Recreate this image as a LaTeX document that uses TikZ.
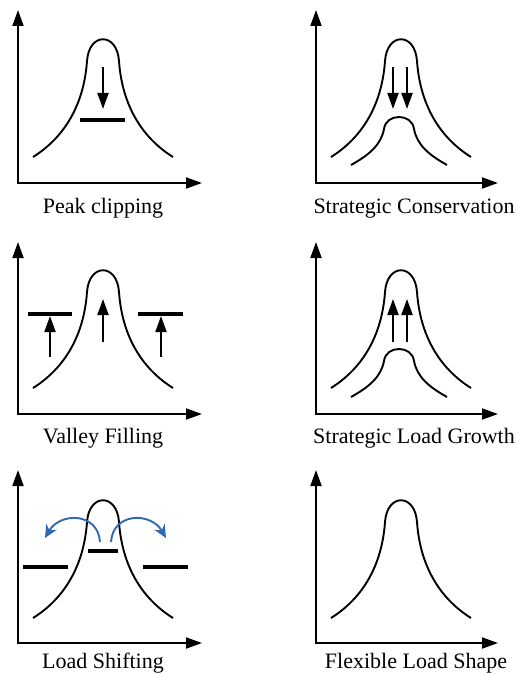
\documentclass[tikz,border=0pt]{standalone}
\usepackage{fontspec}
\setmainfont{Liberation Serif}
\usepackage{tikz}
\usetikzlibrary{arrows.meta,positioning}
\definecolor{shiftblue}{RGB}{46,106,178}

\begin{document}
\begin{tikzpicture}[
    x=1pt, y=-1pt,
    axis/.style={line width=1.9pt, arrows={Triangle[length=16pt,width=11pt]-Triangle[length=16pt,width=11pt]}},
    curve/.style={line width=1.9pt},
    level/.style={line width=3.8pt},
    arrow/.style={-{Triangle[length=16pt,width=11pt]}, line width=1.9pt},
    movearrow/.style={-{Stealth[length=13pt,width=12pt]}, line width=1.9pt, shiftblue},
    caption/.style={font=\fontsize{22}{26}\selectfont, anchor=base, inner sep=0pt},
    bell/.pic={\draw[curve] (-70,118) .. controls (-38,98) and (-19,65) .. (-16,22)
        .. controls (-14,-7) and (14,-7) .. (16,22)
        .. controls (19,65) and (38,98) .. (70,118);},
    smallbell/.pic={\draw[curve] (-48,48) .. controls (-30,38) and (-18,28) .. (-15,12)
        .. controls (-13,-4) and (13,-4) .. (15,12)
        .. controls (18,28) and (30,38) .. (48,48);}
]
\useasboundingbox (0,0) rectangle (518,674);

% Peak clipping
\draw[axis] (18,10) -- (18,183) -- (202,183);
\pic at (103,39) {bell};
\draw[arrow] (103,67) -- (103,109);
\draw[level] (80,120) -- (125,120);
\node[caption] (pc) at (103,213) {Peak clipping};

% Strategic Conservation
\draw[axis] (316,10) -- (316,183) -- (498,183);
\pic at (401,39) {bell};
\pic at (399,117) {smallbell};
\draw[arrow] (393,67) -- (393,109);
\draw[arrow] (407,67) -- (407,109);
\node[caption] (sc) at (414,213) {Strategic Conservation};

% Valley Filling
\draw[axis] (18,242) -- (18,414) -- (202,414);
\pic at (103,270) {bell};
\draw[level] (28,314) -- (72,314);
\draw[level] (138,314) -- (183,314);
\draw[arrow] (50,357) -- (50,316);
\draw[arrow] (103,342) -- (103,299);
\draw[arrow] (161,357) -- (161,316);
\node[caption] (vf) at (103,443) {Valley Filling};

% Strategic Load Growth
\draw[axis] (316,242) -- (316,414) -- (498,414);
\pic at (401,270) {bell};
\pic at (399,349) {smallbell};
\draw[arrow] (393,342) -- (393,299);
\draw[arrow] (407,342) -- (407,299);
\node[caption] (slg) at (414,443) {Strategic Load Growth};

% Load Shifting
\draw[axis] (18,470) -- (18,643) -- (202,643);
\pic at (103,500) {bell};
\draw[level] (23,567) -- (68,567);
\draw[level] (143,567) -- (188,567);
\draw[level] (88,551) -- (118,551);
\draw[movearrow] (100,542) .. controls (98,512) and (60,512) .. (45,538);
\draw[movearrow] (111,542) .. controls (113,512) and (151,512) .. (166,538);
\node[caption] (ls) at (103,668) {Load Shifting};

% Flexible Load Shape
\draw[axis] (316,470) -- (316,643) -- (498,643);
\pic at (401,500) {bell};
\node[caption] (fls) at (416,668) {Flexible Load Shape};
\end{tikzpicture}
\end{document}
